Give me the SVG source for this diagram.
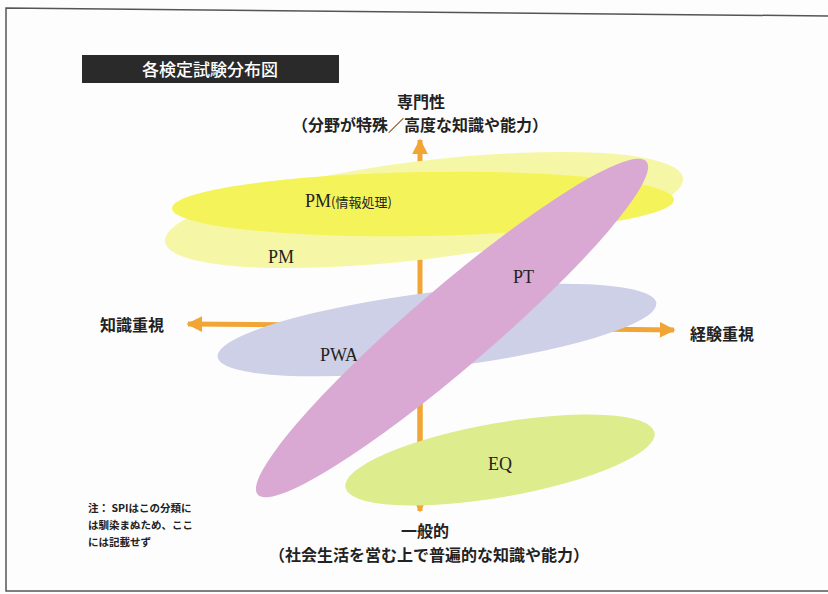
<svg xmlns="http://www.w3.org/2000/svg" width="828" height="594" viewBox="0 0 828 594">
<style>
.jp{font-family:"Noto Sans CJK JP","Noto Sans",sans-serif;font-weight:bold;fill:#222}
.ax{font-size:16px}
.lbl{font-family:"Liberation Serif",serif;font-size:18px;fill:#222}
.axis{stroke:#F0A535;stroke-width:5;fill:none}
</style>
<defs>
<marker id="ah" viewBox="0 0 10 10" refX="9" refY="5" markerWidth="3.2" markerHeight="3.2" orient="auto" markerUnits="strokeWidth">
<path d="M0,0 L10,5 L0,10 z" fill="#F0A535"/>
</marker>
</defs>
<rect width="828" height="594" fill="#fdfdfd"/>
<g id="frame" fill="none" stroke="#555" stroke-width="1.5">
<path d="M828,16 L6,8 L6,591 L828,591"/>
</g>
<g id="title">
<rect x="82" y="55" width="257" height="28" fill="#2a2a2a"/>
<text x="210" y="76" text-anchor="middle" class="jp" style="fill:#fff;font-size:17px;font-weight:500">各検定試験分布図</text>
</g>
<g id="connectors">
<line class="axis" x1="420" y1="500" x2="420" y2="140" marker-end="url(#ah)"/>
<line class="axis" x1="420" y1="300" x2="420" y2="511" marker-end="url(#ah)"/>
<line class="axis" x1="420" y1="326" x2="188" y2="324" marker-end="url(#ah)"/>
<line class="axis" x1="420" y1="327" x2="674" y2="330" marker-end="url(#ah)"/>
</g>
<g id="pm">
<ellipse cx="424" cy="210" rx="261" ry="49" transform="rotate(-7 424 210)" fill="#F6F7A6"/>
<text x="268" y="263" class="lbl">PM</text>
</g>
<g id="pm-joho">
<ellipse cx="423" cy="204" rx="251" ry="32" transform="rotate(-1 423 204)" fill="#F4F35A"/>
<text x="305" y="207" class="lbl">PM<tspan style="font-family:'Noto Sans CJK JP',sans-serif;font-size:13px">(情報処理)</tspan></text>
</g>
<g id="pwa">
<ellipse cx="437" cy="330" rx="221" ry="38" transform="rotate(-7 437 330)" fill="#CDD0E6"/>
<text x="320" y="361" class="lbl">PWA</text>
</g>
<g id="pt">
<ellipse cx="452" cy="328" rx="256" ry="40" transform="rotate(-40.6 452 328)" fill="#D9A9D3"/>
<text x="513" y="283" class="lbl">PT</text>
</g>
<g id="eq">
<ellipse cx="500" cy="460" rx="157" ry="37" transform="rotate(-10 500 460)" fill="#DDEC8C"/>
<text x="488" y="470" class="lbl">EQ</text>
</g>
<g id="labels">
<text x="421" y="108" text-anchor="middle" class="jp ax">専門性</text>
<text x="420" y="131" text-anchor="middle" class="jp ax">（分野が特殊／高度な知識や能力）</text>
<text x="100" y="331" class="jp ax">知識重視</text>
<text x="690" y="340" class="jp ax">経験重視</text>
<text x="425" y="537" text-anchor="middle" class="jp ax">一般的</text>
<text x="429" y="561" text-anchor="middle" class="jp ax">（社会生活を営む上で普遍的な知識や能力）</text>
<g class="jp" style="font-size:10.5px">
<text x="88" y="512">注： SPIはこの分類に</text>
<text x="88" y="529">は馴染まぬため、ここ</text>
<text x="88" y="546">には記載せず</text>
</g>
</g>
</svg>
